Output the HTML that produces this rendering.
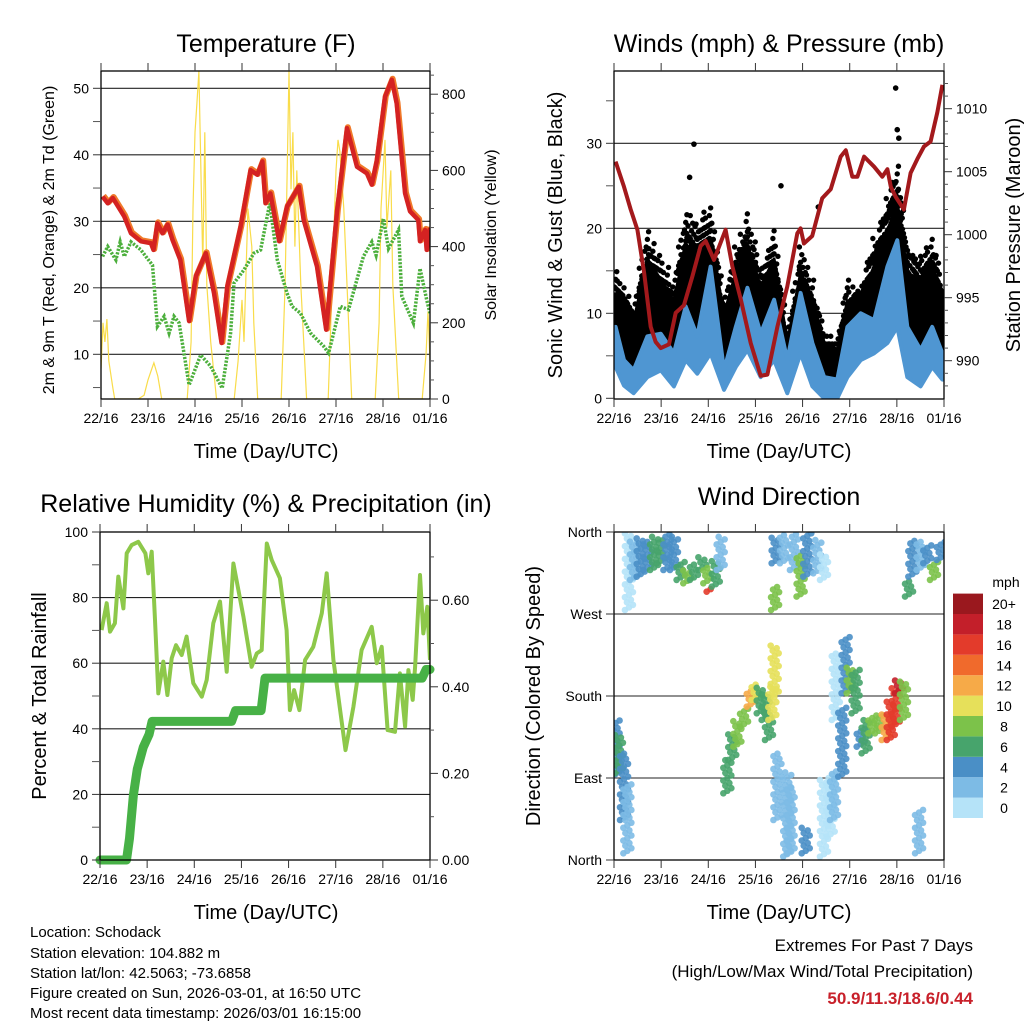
<!DOCTYPE html>
<html><head><meta charset="utf-8">
<style>
html,body{margin:0;padding:0;background:#fff;}
svg{display:block;font-family:"Liberation Sans",sans-serif;}
</style></head>
<body>
<svg id="chart" xmlns="http://www.w3.org/2000/svg" width="1024" height="1024" viewBox="0 0 1024 1024">
<defs>
<clipPath id="c1"><rect x="101" y="71" width="329" height="328"/></clipPath>
<clipPath id="c2"><rect x="614" y="71" width="330" height="328"/></clipPath>
<clipPath id="c3"><rect x="100" y="532" width="330" height="328"/></clipPath>
<clipPath id="c4"><rect x="614" y="532" width="330" height="328"/></clipPath>
</defs>
<g id="grid"></g>
<g id="marks"></g>
<g id="axes"></g>
<g font-size="25" text-anchor="middle" fill="#000">
<text x="266" y="52">Temperature (F)</text>
<text x="779" y="52">Winds (mph) &amp; Pressure (mb)</text>
<text x="266" y="512">Relative Humidity (%) &amp; Precipitation (in)</text>
<text x="779" y="505">Wind Direction</text>
</g>
<g font-size="20" text-anchor="middle">
<text x="266" y="458">Time (Day/UTC)</text>
<text x="779" y="458">Time (Day/UTC)</text>
<text x="266" y="919">Time (Day/UTC)</text>
<text x="779" y="919">Time (Day/UTC)</text>
<text transform="translate(562,235) rotate(-90)">Sonic Wind &amp; Gust (Blue, Black)</text>
<text transform="translate(1020,235) rotate(-90)">Station Pressure (Maroon)</text>
<text transform="translate(46,696) rotate(-90)">Percent &amp; Total Rainfall</text>
<text transform="translate(540,696) rotate(-90)">Direction (Colored By Speed)</text>
</g>
<g font-size="16" text-anchor="middle">
<text transform="translate(54,240) rotate(-90)">2m &amp; 9m T (Red, Orange) &amp; 2m Td (Green)</text>
<text transform="translate(496,235) rotate(-90)">Solar Insolation (Yellow)</text>
</g>
<g font-size="15" fill="#000">
<text x="30" y="937">Location: Schodack</text>
<text x="30" y="958">Station elevation: 104.882 m</text>
<text x="30" y="978">Station lat/lon: 42.5063; -73.6858</text>
<text x="30" y="998">Figure created on Sun, 2026-03-01, at 16:50 UTC</text>
<text x="30" y="1018">Most recent data timestamp: 2026/03/01 16:15:00</text>
</g>
<g font-size="17" text-anchor="end">
<text x="973" y="951">Extremes For Past 7 Days</text>
<text x="973" y="977">(High/Low/Max Wind/Total Precipitation)</text>
<text x="973" y="1004" font-weight="bold" fill="#c8202a" font-size="17">50.9/11.3/18.6/0.44</text>
</g>
<g id="cbar"></g>
</svg>
<script>
// ---- Temperature panel data (hours since 22/16 UTC) ----
const tHours=[0.8,3.4,6,11.9,15.3,20.4,25.5,26.8,28.8,31.4,34,36.5,40.5,45,48.4,53.5,57.7,61.6,64.5,71.3,76.4,79.8,82.4,84,86.5,91,95,101,103.5,110.3,115,120.5,125.6,130.7,135.8,138.3,140.8,145,148.5,151,155.3,157.8,162,162.9,165.5,166.3,168];
const tempF=[33.7,32.7,33.5,30.7,28.2,27,26.7,25.7,29.7,28.2,29.5,27.2,24.2,15,21.7,25.2,19.2,11.7,20.2,29.2,37.7,37,39,32.7,34.2,27,32.2,35.2,30.2,23.2,13.7,31.5,44,38.2,37.2,35.5,39,48.7,51.3,47.7,34.2,31.5,30.2,27,28.7,25.7,29];
const dHours=[0.8,3.4,7.6,9.8,11.9,15.3,20.4,26.3,28.8,32.2,34.8,37.3,39.9,45,50.9,56,61.9,66.2,67.9,73,78.1,81.5,86.2,90,95,97.6,101.8,107,113.7,116.2,122.2,126.4,134,138.3,140.5,144.2,146.8,151.9,153.6,159.5,162.9,166.3,168];
const dewF=[24.7,26.2,24.2,26.9,24.7,26.9,25.7,23.4,14.2,15.7,13.2,15.7,14.7,5.4,9.9,8.2,4.9,13.2,20.7,22.7,25.2,25.7,32.7,24.2,19.2,17.2,16.2,13.2,11.2,10.2,17.2,16.7,24.7,26.9,24.9,30.4,25.9,28.7,18.7,14.7,22.9,18.2,16.2];
const sHours=[0,1,2,3,4,6,7,19,22,24,26,27,29,31,44,46,47,48,49,50,51,52,53,54,56,58,59,68,70,72,73,75,77,78,80,92,94,96,97,98,99,100,102,104,105,116,118,120,121,122,124,126,128,140,142,143,145,146,148,149,151,152,164,166,167,168];
const solarW=[80,200,150,210,100,30,0,0,10,50,80,95,60,0,0,150,500,700,780,860,600,350,700,300,150,50,0,0,100,260,150,500,400,200,0,0,300,860,550,700,400,600,300,100,0,0,300,600,680,650,500,250,0,0,200,500,680,450,600,300,100,0,0,120,230,100];
const tempTicks=[10,20,30,40,50];
const solarTicks=[0,200,400,600,800];
const dayLabels=["22/16","23/16","24/16","25/16","26/16","27/16","28/16","01/16"];
// ---- Winds panel data ----
const pHours=[0.8,5.1,8.5,11.9,15.3,18.7,21.2,23.8,28,31.4,35.6,39.9,44.1,46.7,50.9,56.8,60.2,64.5,69.6,74.7,78.1,83.2,88.2,93.3,95,96.7,100.9,106,110.3,115.4,118,121.3,123.9,127.3,132.4,136.6,139.2,140.9,143.4,147.6,151,154.4,157.8,161.2,164.6,167.2];
const pressMb=[1005.8,1003.8,1002,1000.4,997,992.7,991.5,991,991.3,993.8,994.4,996.7,999.1,999.5,998,1000.4,997.5,994.9,991.4,988.8,988.9,992.7,995.9,1000.1,1000.5,999.3,999.9,1002.9,1003.6,1006.2,1006.7,1004.6,1004.6,1006.2,1005.4,1004.6,1005.2,1003.8,1003,1002,1004.9,1006,1007,1007.4,1009.7,1011.9];
const wHours=[0.8,5.1,10,17,23.8,30.5,36.5,42.4,49.2,56,62,67.9,74.7,81.5,88.2,95,101,107,113.7,118.8,125.6,132.4,139.2,144.2,149.3,156.1,162,167.2];
const windHi=[8.4,4.5,3.3,7.3,7.6,5.3,10.8,7.3,15.5,3.3,8.4,13,7.6,11.6,4.5,12.4,6.5,2.5,2.2,8.4,10,9.2,15.5,18.6,8.4,5.7,8.4,5.3];
const windLo=[3.7,1.5,0.6,2.5,3.3,1.4,4.5,2.9,5.3,1,3.7,5.7,2.5,4.5,0.6,5.3,1.4,0,0,2.5,4.5,5.3,6.5,8.4,2.5,1.4,3.7,2.2];
const gustHi=[15,13.5,11,20,17,14,22,21,23,12,18,22,16,20,8,18,14,8,7,14,14,19,24,28,18,17,19,15];
const gustLo=[5,4,2,7,6,5,9,7,8,3,7,10,7,8,2,7,4,1,1,4,6,8,10,12,7,5,7,5];
const outHours=[40.7,143.4,144.2,145,38.5,85,104];
const outGust=[29.9,36.5,31.6,30.6,26,25,22.5];
const windTicks=[0,10,20,30];
const pressTicks=[990,995,1000,1005,1010];
// ---- Humidity panel data ----
const rhHours=[0.8,3.4,5.1,7.6,9.3,11.9,13.6,16.1,19.5,23.1,24.6,26.3,28,29.7,32.2,34.3,36.5,38.7,41.6,44.1,47.5,51.8,54.3,57.7,61.1,64.5,67.9,73,77.2,79.8,82.3,84.9,87.4,91.6,95,96.7,98.8,101.5,104.4,108.6,112.9,115.4,118.8,125,129,133.2,138.3,140.9,143.4,146.4,150.2,152.7,155.3,157,159.2,160.4,162.9,164.6,166.6,168];
const rhPct=[70.1,78.3,69.6,72.2,86.4,76.7,93.5,96,97,93.5,87.4,94,73.2,50.8,60.5,50.3,61.5,65.5,62.5,68.1,53.9,49.8,54.9,72.2,78.8,57.4,90.4,74.2,58.9,63,64,96.5,91.5,85.9,70.1,45.7,51.8,45.7,61,65,75.2,87.4,61,33.5,46.7,64,71.1,60,65,39.6,39.1,56.9,40.7,57.9,48.8,58.9,86.9,69.1,77.2,61];
const prHours=[0,13.5,15,17,19,22,25,26.5,67,69,82,84,164,166,168];
const precipIn=[0,0,0.05,0.15,0.21,0.26,0.29,0.32,0.32,0.345,0.345,0.42,0.42,0.44,0.44];
const rhTicks=[0,20,40,60,80,100];
const prTicks=[0,0.2,0.4,0.6];
const prLabels=["0.00","0.20","0.40","0.60"];
// ---- Wind direction panel data (columns of observations) ----
const dirHours=[7.6,10.2,13.6,17.0,20.4,23.8,27.2,30.5,33.9,37.3,40.7,45.0,47.5,49.2,51.8,54.3,82.3,82.0,81.8,86.5,91.6,95.0,98.4,103.5,106.9,150.2,151.9,156.1,159.5,162.9,166.3,0.8,2.5,5.1,6.8,57.7,60.2,62.8,66.2,69.6,72.1,74.7,77.2,78.9,80.6,83.2,88.2,89.9,97.6,106.9,110.3,112.0,112.9,116.2,117.9,120.5,123.0,125.6,128.1,131.5,134.9,138.3,140.9,143.4,145.1,147.6,155.3];
const dirLo=[274.4,307.4,311.0,318.3,318.3,325.7,318.3,318.3,307.4,303.7,307.4,318.3,303.7,294.5,300.0,318.3,325.7,274.4,179.3,325.7,318.3,289.1,311.0,314.7,307.4,289.1,311.0,318.3,325.7,307.4,329.3,91.5,95.1,43.9,7.3,73.2,109.8,124.4,146.4,168.3,175.6,161.0,153.7,131.7,153.7,43.9,3.7,7.3,7.3,3.7,25.6,43.9,153.7,91.5,183.0,183.0,161.0,124.4,117.1,139.0,139.0,131.7,131.7,146.4,183.0,153.7,7.3];
const dirHi=[358.6,351.3,354.9,351.3,354.9,351.3,358.6,354.9,329.3,318.3,325.7,333.0,322.0,300.0,329.3,356.8,354.9,300.0,237.8,358.6,358.6,336.6,358.6,351.3,336.6,307.4,351.3,351.3,347.6,329.3,351.3,153.7,139.0,117.1,84.2,109.8,139.0,153.7,168.3,190.3,193.9,190.3,183.0,161.0,190.3,117.1,98.8,80.5,36.6,87.8,95.1,98.8,226.9,168.3,245.2,212.2,208.6,146.4,153.7,161.0,161.0,161.0,175.6,190.3,197.6,197.6,54.9];
const dirSpeed=[1,2,4,4,7,7,4,4,7,9,7,6,9,16,7,2,4,9,10,2,3,9,4,3,1,6,4,3,4,8,4,5,6,4,3,6,7,8,9,12,10,7,6,6,10,3,2,2,4,1,1,2,1,4,4,8,6,4,6,8,9,12,16,17,19,9,2];
const speedLabels=["0","2","4","6","8","10","12","14","16","18","20+"];
const speedColors=["#b5e3f8","#7dbbe5","#4a8fc6","#47a46c","#7cc24a","#e6e05a","#f6aa48","#f06a2c","#e33b2b","#c31f2a","#9a181e"];
const dirTicks=[0,90,180,270,360];
const dirLabels=["North","East","South","West","North"];

const NS='http://www.w3.org/2000/svg';
const gGrid=document.getElementById('grid'), gMarks=document.getElementById('marks'), gAxes=document.getElementById('axes');
function mk(tag,parent,attrs){const e=document.createElementNS(NS,tag);for(const k in attrs)e.setAttribute(k,attrs[k]);parent.appendChild(e);return e;}
function txt(parent,x,y,s,anchor,size){const t=mk('text',parent,{x:x,y:y,'text-anchor':anchor,'font-size':size});t.textContent=s;return t;}

const panels=[
 {x0:101,x1:430,y0:71,y1:399},{x0:614,x1:944,y0:71,y1:399},
 {x0:100,x1:430,y0:532,y1:860},{x0:614,x1:944,y0:532,y1:860}];
function xs(p,h){return p.x0+h/168*(p.x1-p.x0);}
const yT=v=>354.3-(v-10)*6.65, yS=v=>399-v*0.381;
const yW=v=>398.3-v*8.5, yP=v=>360.7-(v-990)*12.6;
const yR=v=>860-v*3.28, yPr=v=>860-v*433;
const yD=v=>860-v/360*328;

panels.forEach((p,i)=>{
 const r=mk('rect',gAxes,{x:p.x0,y:p.y0,width:p.x1-p.x0,height:p.y1-p.y0,fill:'none',stroke:'#000','stroke-width':1.3});
 
 
 dayLabels.forEach((lab,d)=>{
  const x=xs(p,d*24);
  const tk=mk('line',gAxes,{x1:x,x2:x,y1:p.y0-8,y2:p.y0,stroke:'#333','stroke-width':1});
  
  
  const tb=mk('line',gAxes,{x1:x,x2:x,y1:p.y1,y2:p.y1+8,stroke:'#333','stroke-width':1});
  
  
  const t=txt(gAxes,x,p.y1+24,lab,'middle',14);
  
  
 });
});
function leftTicks(p,vals,yf,labels,grid,minor){
 vals.forEach((v,i)=>{
  const y=yf(v);
  if(grid&&y>p.y0+1&&y<p.y1-1){const g=mk('line',gGrid,{x1:p.x0,x2:p.x1,y1:y,y2:y,stroke:'#222','stroke-width':1.1});
   
   }
  const tk=mk('line',gAxes,{x1:p.x0-8,x2:p.x0,y1:y,y2:y,stroke:'#333'});
  
  
  const t=txt(gAxes,p.x0-12,y+5,labels[i],'end',14);
  
  
 });
 if(minor){minor.forEach(v=>{const y=yf(v);if(y>p.y0&&y<p.y1){const m=mk('line',gAxes,{x1:p.x0-8,x2:p.x0,y1:y,y2:y,stroke:'#555'});
  
  }});}
}
function rightTicks(p,vals,yf,labels,minor){
 vals.forEach((v,i)=>{const y=yf(v);
  const tk=mk('line',gAxes,{x1:p.x1,x2:p.x1+8,y1:y,y2:y,stroke:'#333'});
  
  
  const t=txt(gAxes,p.x1+12,y+5,labels[i],'start',14);
  
  });
 minor.forEach(v=>{const y=yf(v);if(y>p.y0&&y<p.y1){const m=mk('line',gAxes,{x1:p.x1,x2:p.x1+4,y1:y,y2:y,stroke:'#555'});
  
  }});
}
const P=panels;
leftTicks(P[0],tempTicks,yT,tempTicks.map(String),true,[5,15,25,35,45]);
rightTicks(P[0],solarTicks,yS,solarTicks.map(String),[50,100,150,250,300,350,450,500,550,650,700,750,850]);
leftTicks(P[1],windTicks,yW,windTicks.map(String),true,[5,15,25,35]);
rightTicks(P[1],pressTicks,yP,pressTicks.map(String),[988,989,991,992,993,994,996,997,998,999,1001,1002,1003,1004,1006,1007,1008,1009,1011,1012]);
leftTicks(P[2],rhTicks,yR,rhTicks.map(String),true,[10,30,50,70,90]);
rightTicks(P[2],prTicks,yPr,prLabels,[0.1,0.3,0.5,0.7]);
leftTicks(P[3],dirTicks,yD,dirLabels,true,null);

function path(hs,vs,p,yf){return hs.map((h,i)=>(i?'L':'M')+xs(p,h).toFixed(1)+','+yf(vs[i]).toFixed(1)).join(' ');}
function bandPath(hs,hi,lo,p,yf,k){return 'M'+hs.map((h,i)=>xs(p,h).toFixed(1)+','+yf(hi[i]*k).toFixed(1)).join(' L')+' L'+hs.slice().reverse().map((h,j)=>{const i=hs.length-1-j;return xs(p,h).toFixed(1)+','+yf(lo[i]).toFixed(1);}).join(' L')+'Z';}

// Temperature panel
const g1=mk('g',gMarks,{'clip-path':'url(#c1)'});
const solar=mk('path',g1,{d:path(sHours,solarW,P[0],yS),fill:'none',stroke:'#f9dc4a','stroke-width':1.2});


const dew=mk('path',g1,{d:path(dHours,dewF,P[0],yT),fill:'none',stroke:'#4caf3c','stroke-width':3.5,'stroke-dasharray':'2.2,1.4'});


const t9=mk('path',g1,{d:path(tHours,tempF,P[0],yT),fill:'none',stroke:'#f07a2a','stroke-width':6,'stroke-linejoin':'round',transform:'translate(0.8,-1)'});


const t2=mk('path',g1,{d:path(tHours,tempF,P[0],yT),fill:'none',stroke:'#d42222','stroke-width':4.5,'stroke-linejoin':'round'});



// Winds panel
const g2=mk('g',gMarks,{'clip-path':'url(#c2)'});
const gcore=mk('path',g2,{d:bandPath(wHours,gustHi,gustLo,P[1],yW,0.82),fill:'#000',stroke:'#000','stroke-width':3,'stroke-linejoin':'round'});


for(let i=0;i<wHours.length-1;i++){
 const N=10;
 for(let s=0;s<N;s++){
  const f=s/N, h=wHours[i]+(wHours[i+1]-wHours[i])*f;
  const hi=gustHi[i]+(gustHi[i+1]-gustHi[i])*f, lo=gustLo[i]+(gustLo[i+1]-gustLo[i])*f;
  const hiJ=hi*[1,0.86,0.95,0.8,0.92][s%5];
  let k=0;
  for(let v=lo;v<=hiJ;v+=0.9){
   const c=mk('circle',g2,{cx:xs(P[1],h)+((k%3)-1)*1.2,cy:yW(v),r:2.7,fill:'#000'});
   
   
   k++;
  }
 }
}
outHours.forEach((h,i)=>{const c=mk('circle',g2,{cx:xs(P[1],h),cy:yW(outGust[i]),r:2.8,fill:'#000'});
 
 });
const band=mk('path',g2,{d:bandPath(wHours,windHi,windLo,P[1],yW,1),fill:'#4f96d2',stroke:'#4f96d2','stroke-width':4,'stroke-linejoin':'round'});


const pr=mk('path',g2,{d:path(pHours,pressMb,P[1],yP),fill:'none',stroke:'#a3191c','stroke-width':4,'stroke-linejoin':'round'});



// Humidity panel
const g3=mk('g',gMarks,{'clip-path':'url(#c3)'});
const rh=mk('path',g3,{d:path(rhHours,rhPct,P[2],yR),fill:'none',stroke:'#8dc84a','stroke-width':4,'stroke-linejoin':'round'});


const pc=mk('path',gMarks,{d:path(prHours,precipIn,P[2],yPr),fill:'none',stroke:'#47b146','stroke-width':9,'stroke-linejoin':'round','stroke-linecap':'round'});



// Wind direction panel
const g4=mk('g',gMarks,{'clip-path':'url(#c4)'});
dirHours.forEach((h,i)=>{
 const col=speedColors[Math.min(10,Math.floor(dirSpeed[i]/2))];
 let k=0;
 for(let d=dirLo[i];d<=dirHi[i]+0.01;d+=2.8){
  const off=[-4,0,4,-2,2][k%5];
  const c=mk('circle',g4,{cx:xs(P[3],h)+off,cy:yD(d),r:3.3,fill:col,'fill-opacity':0.9});
  
  
  k++;
 }
});

// Colorbar
const cb=document.getElementById('cbar');
speedColors.forEach((c,i)=>{
 const y=818-(i+1)*20.4;
 const r=mk('rect',cb,{x:953,y:y,width:30,height:20.4,fill:c});
 
 
 const t=txt(cb,1004,y+15.5,speedLabels[i],'middle',14);
 
 
});
const mu=txt(cb,1006,587,'mph','middle',14);


</script>
</body></html>
